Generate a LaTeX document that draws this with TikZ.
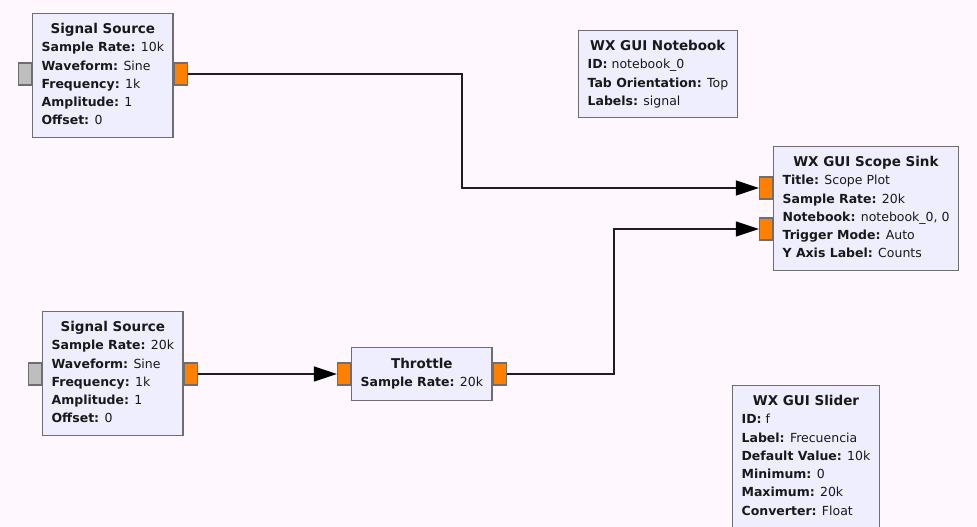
\documentclass[tikz,border=0pt]{standalone}
\usepackage{fontspec}
\setmainfont{DejaVu Sans}
\usepackage{tikz}
\usetikzlibrary{arrows.meta,calc}
\definecolor{canvas}{HTML}{FEF8FE}
\definecolor{blockfill}{HTML}{EEEEFF}
\definecolor{blockline}{HTML}{6E6E6E}
\definecolor{portorange}{HTML}{FF8000}
\definecolor{portgray}{HTML}{BEBEBE}
\definecolor{wirecol}{HTML}{1E1E1E}
\newcommand{\kv}[2]{\textbf{#1:} #2}
\newcommand{\btitle}[1]{\multicolumn{1}{@{}c@{}}{\fontsize{13.5}{18.3}\selectfont\textbf{#1}}}
\tikzset{
  block/.style={draw=blockline, line width=1.2pt, fill=blockfill, anchor=north west,
    inner xsep=9pt, inner ysep=7pt, text=black!90,
    font=\fontsize{12.5}{18.3}\selectfont},
  oport/.style={draw=blockline, line width=1.2pt, fill=portorange,
    minimum width=13pt, minimum height=22pt, inner sep=0pt},
  gport/.style={oport, fill=portgray},
  wire/.style={draw=wirecol, line width=1.3pt},
  arrowwire/.style={wire, -{Triangle[length=23pt,width=15pt,color=black]}}
}
\begin{document}
\begin{tikzpicture}[x=1pt,y=-1pt]
\clip (0,0) rectangle (977,527);
\fill[canvas] (0,0) rectangle (977,527);

% blocks
\node[block] (src1) at (32,13) {\begin{tabular}{@{}l@{}}\btitle{Signal Source}\\
  \kv{Sample Rate}{10k}\\ \kv{Waveform}{Sine}\\ \kv{Frequency}{1k}\\
  \kv{Amplitude}{1}\\ \kv{Offset}{0}\end{tabular}};
\node[block] (nb) at (578,30) {\begin{tabular}{@{}l@{}}\btitle{WX GUI Notebook}\\
  \kv{ID}{notebook\_0}\\ \kv{Tab Orientation}{Top}\\ \kv{Labels}{signal}\end{tabular}};
\node[block] (scope) at (773,146) {\begin{tabular}{@{}l@{}}\btitle{WX GUI Scope Sink}\\
  \kv{Title}{Scope Plot}\\ \kv{Sample Rate}{20k}\\ \kv{Notebook}{notebook\_0, 0}\\
  \kv{Trigger Mode}{Auto}\\ \kv{Y Axis Label}{Counts}\end{tabular}};
\node[block] (src2) at (42,311) {\begin{tabular}{@{}l@{}}\btitle{Signal Source}\\
  \kv{Sample Rate}{20k}\\ \kv{Waveform}{Sine}\\ \kv{Frequency}{1k}\\
  \kv{Amplitude}{1}\\ \kv{Offset}{0}\end{tabular}};
\node[block, inner ysep=8pt] (thr) at (351,347) {\begin{tabular}{@{}l@{}}\btitle{Throttle}\\
  \kv{Sample Rate}{20k}\end{tabular}};
\node[block] (slider) at (732,385) {\begin{tabular}{@{}l@{}}\btitle{WX GUI Slider}\\
  \kv{ID}{f}\\ \kv{Label}{Frecuencia}\\ \kv{Default Value}{10k}\\
  \kv{Minimum}{0}\\ \kv{Maximum}{20k}\\ \kv{Converter}{Float}\end{tabular}};

% ports
\node[gport, anchor=east] (src1in) at (src1.west |- 0,74) {};
\node[oport, anchor=west] (src1out) at (src1.east |- 0,74) {};
\node[gport, anchor=east] (src2in) at (src2.west |- 0,374) {};
\node[oport, anchor=west] (src2out) at (src2.east |- 0,374) {};
\node[oport, anchor=east] (thrin) at (thr.west |- 0,374) {};
\node[oport, anchor=west] (throut) at (thr.east |- 0,374) {};
\node[oport, anchor=east] (scopein0) at (scope.west |- 0,188) {};
\node[oport, anchor=east] (scopein1) at (scope.west |- 0,229) {};

% connections
\coordinate (bendA) at (462,0);
\coordinate (bendB) at (614,0);
\draw[arrowwire] (src1out.east) -- (src1out.east -| bendA) |- (scopein0.west);
\draw[arrowwire] (throut.east) -- (throut.east -| bendB) |- (scopein1.west);
\draw[arrowwire] (src2out.east) -- (thrin.west);
\end{tikzpicture}
\end{document}
